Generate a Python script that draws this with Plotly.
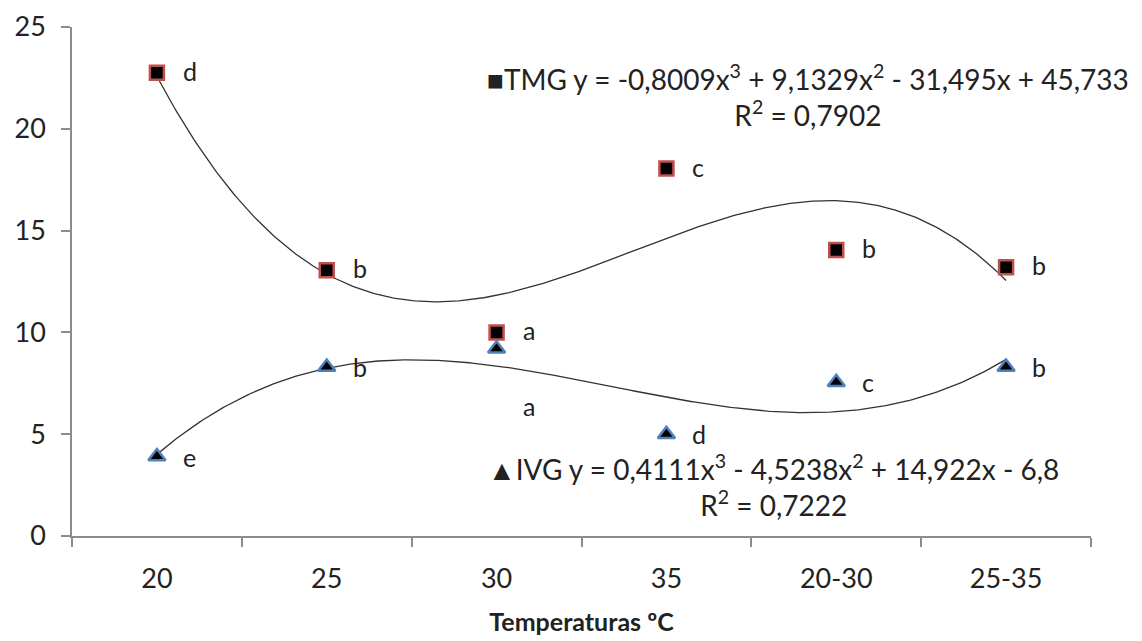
import numpy as np
import plotly.graph_objects as go

categories = ["20", "25", "30", "35", "20-30", "25-35"]
tmg = [22.75, 13.05, 10.0, 18.05, 14.05, 13.2]
ivg = [3.9, 8.3, 9.2, 5.0, 7.55, 8.3]
tmg_letters = ["d", "b", "a", "c", "b", "b"]
ivg_letters = ["e", "b", "a", "d", "c", "b"]
tmg_coef = [-0.8009, 9.1329, -31.495, 45.733]
ivg_coef = [0.4111, -4.5238, 14.922, -6.8]
y_ticks = [0, 5, 10, 15, 20, 25]

FONT = "Lato"
pos = list(range(1, len(categories) + 1))
xs = np.linspace(1, len(categories), 300)

fig = go.Figure()
fig.add_trace(go.Scatter(x=xs, y=np.polyval(tmg_coef, xs), mode="lines",
                         line=dict(color="#333333", width=1.3), hoverinfo="skip"))
fig.add_trace(go.Scatter(x=xs, y=np.polyval(ivg_coef, xs), mode="lines",
                         line=dict(color="#333333", width=1.3), hoverinfo="skip"))
fig.add_trace(go.Scatter(x=pos, y=tmg, mode="markers",
                         marker=dict(symbol="square", size=14, color="black",
                                     line=dict(color="#C0504D", width=2.5))))
fig.add_trace(go.Scatter(x=pos, y=ivg, mode="markers",
                         marker=dict(symbol="triangle-up", size=15, color="black",
                                     line=dict(color="#4F81BD", width=2.5))))

for i, (p, v, t) in enumerate(zip(pos, tmg, tmg_letters)):
    fig.add_annotation(x=p, y=v, text=t, showarrow=False, xanchor="left",
                       xshift=24, yshift=2, font=dict(family=FONT, size=25, color="#222"))
for i, (p, v, t) in enumerate(zip(pos, ivg, ivg_letters)):
    ys = 0
    if i == 2:
        ys = -(v - 6.4) * 20.36
    fig.add_annotation(x=p, y=v, text=t, showarrow=False, xanchor="left",
                       xshift=24, yshift=ys, font=dict(family=FONT, size=25, color="#222"))

fig.add_annotation(xref="paper", yref="paper", x=0.722, y=0.866,
                   text="■TMG y = -0,8009x<sup>3</sup> + 9,1329x<sup>2</sup> - 31,495x + 45,733<br>R<sup>2</sup> = 0,7902",
                   showarrow=False, align="center", xanchor="center", yanchor="middle",
                   font=dict(family=FONT, size=28, color="#222"))
fig.add_annotation(xref="paper", yref="paper", x=0.688, y=0.100,
                   text="▲IVG y = 0,4111x<sup>3</sup> - 4,5238x<sup>2</sup> + 14,922x - 6,8<br>R<sup>2</sup> = 0,7222",
                   showarrow=False, align="center", xanchor="center", yanchor="middle",
                   font=dict(family=FONT, size=28, color="#222"))

fig.update_layout(
    width=1142, height=641,
    margin=dict(l=72, r=51, t=27, b=105, autoexpand=False),
    plot_bgcolor="white", paper_bgcolor="white",
    showlegend=False,
    font=dict(family=FONT, color="#222"),
    xaxis=dict(range=[0.5, len(categories) + 0.5], tickvals=pos, ticktext=categories,
               ticks="", showgrid=False, zeroline=False,
               showline=True, linecolor="#8C8C8C", linewidth=1.5,
               tickfont=dict(family=FONT, size=27, color="#222"),
               ticklabelstandoff=18,
               minor=dict(tickmode="linear", tick0=0.5, dtick=1, ticks="outside",
                          ticklen=9, tickcolor="#8C8C8C", tickwidth=1.5, showgrid=False),
               title=dict(text="<b>Temperaturas ºC</b>", font=dict(family=FONT, size=25, color="#222"),
                          standoff=20)),
    yaxis=dict(range=[0, 25], tickvals=y_ticks, ticks="outside", ticklen=9,
               tickcolor="#8C8C8C", tickwidth=1.5, showgrid=False, zeroline=False,
               showline=True, linecolor="#8C8C8C", linewidth=1.5,
               tickfont=dict(family=FONT, size=27, color="#222"),
               ticklabelstandoff=10),
)

fig.write_html("out.html", config={"displayModeBar": False},
               post_script="document.body.style.margin='0';document.body.style.padding='0';")
